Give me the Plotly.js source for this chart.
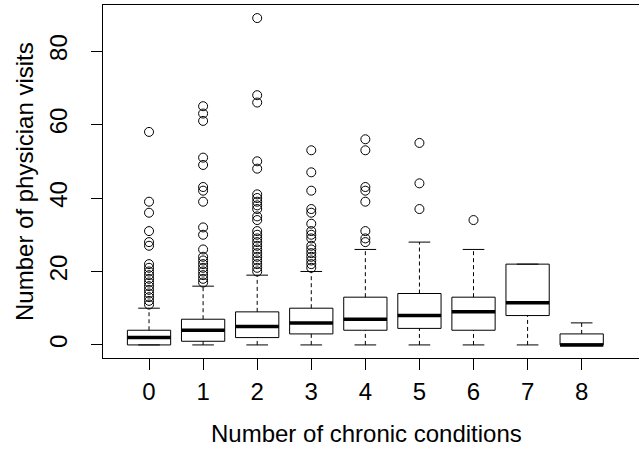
<!DOCTYPE html>
<html>
<head>
<meta charset="utf-8">
<script src="https://cdn.plot.ly/plotly-3.0.1.min.js"></script>
<style>html,body{margin:0;padding:0;background:#fff;}#chart{width:639px;height:452px;}</style>
</head>
<body>
<div id="chart"></div>
<script>
// Data
var categories = [0, 1, 2, 3, 4, 5, 6, 7, 8];
var tickLabels = ["0", "1", "2", "3", "4", "5", "6", "7", "8"];
var lowerWhisker = [0, 0, 0, 0, 0, 0, 0, 0, 0];
var q1 = [0, 1, 2, 3, 4, 4.5, 4, 8, 0];
var median = [2, 4, 5, 6, 7, 8, 9, 11.5, 0];
var q3 = [4, 7, 9, 10, 13, 14, 13, 22, 3];
var upperWhisker = [10, 16, 19, 20, 26, 28, 26, 22, 6];
var outliers = [
  [11,12,13,14,15,16,17,18,19,20,21,22,27,28,31,36,39,58],
  [17,18,19,20,21,22,23,24,26,30,32,39,42,43,49,51,61,63,65],
  [20,21,22,23,24,25,26,27,28,29,30,31,34,35,37,38,39,40,41,48,50,66,68,89],
  [21,22,23,24,25,26,27,29,30,31,33,36,37,42,47,53],
  [28,29,31,39,42,43,53,56],
  [37,44,55],
  [34],
  [],
  []
];
var yTicks = [0, 20, 40, 60, 80];

var FONT = "Liberation Sans, Arial, Helvetica, sans-serif";
var BOXW = 0.8, CAPW = 0.4;

var traces = [];
// Boxes
traces.push({
  type: "box",
  x: categories,
  q1: q1, median: median, q3: q3,
  lowerfence: q1, upperfence: q3,
  width: BOXW,
  fillcolor: "#ffffff",
  line: {color: "#000000", width: 1},
  whiskerwidth: 0,
  boxpoints: false,
  hoverinfo: "skip",
  showlegend: false
});
// Dashed whiskers
var wx = [], wy = [];
categories.forEach(function (c, i) {
  wx.push(c, c, null, c, c, null);
  wy.push(q3[i], upperWhisker[i], null, lowerWhisker[i], q1[i], null);
});
traces.push({type: "scatter", mode: "lines", x: wx, y: wy,
  line: {color: "#000000", width: 1, dash: "4px,3px"}, hoverinfo: "skip", showlegend: false});
// Whisker caps
var cx = [], cy = [];
categories.forEach(function (c, i) {
  cx.push(c - CAPW / 2, c + CAPW / 2, null, c - CAPW / 2, c + CAPW / 2, null);
  cy.push(upperWhisker[i], upperWhisker[i], null, lowerWhisker[i], lowerWhisker[i], null);
});
traces.push({type: "scatter", mode: "lines", x: cx, y: cy,
  line: {color: "#000000", width: 1}, hoverinfo: "skip", showlegend: false});
// Thick medians
var mx = [], my = [];
categories.forEach(function (c, i) {
  mx.push(c - BOXW / 2, c + BOXW / 2, null);
  my.push(median[i], median[i], null);
});
traces.push({type: "scatter", mode: "lines", x: mx, y: my,
  line: {color: "#000000", width: 3.5}, hoverinfo: "skip", showlegend: false});
// Outliers
var ox = [], oy = [];
categories.forEach(function (c, i) {
  outliers[i].forEach(function (v) { ox.push(c); oy.push(v); });
});
traces.push({type: "scatter", mode: "markers", x: ox, y: oy,
  marker: {symbol: "circle-open", size: 9, color: "#000000", line: {width: 1, color: "#000000"}},
  hoverinfo: "skip", showlegend: false});

var layout = {
  width: 639, height: 452,
  margin: {l: 103, r: 0, t: 5, b: 94, pad: 0},
  paper_bgcolor: "#ffffff", plot_bgcolor: "#ffffff",
  font: {family: FONT, size: 24, color: "#000000"},
  showlegend: false,
  xaxis: {
    type: "linear", range: [-0.851, 9.06],
    tickvals: categories, ticktext: tickLabels,
    ticks: "outside", ticklen: 11, tickwidth: 1, tickcolor: "#000000",
    showline: true, mirror: true, linecolor: "#000000", linewidth: 1,
    showgrid: false, zeroline: false,
    ticklabelstandoff: 1,
    tickfont: {family: FONT, size: 24, color: "#000000"}
  },
  yaxis: {
    range: [-3.56, 92.56],
    tickvals: yTicks,
    ticks: "outside", ticklen: 11, tickwidth: 1, tickcolor: "#000000",
    showline: true, linecolor: "#000000", linewidth: 1,
    showgrid: false, zeroline: false,
    tickangle: -90,
    ticklabelstandoff: 14,
    tickfont: {family: FONT, size: 24, color: "#000000"}
  },
  annotations: [
    {text: "Number of chronic conditions", xref: "paper", yref: "paper",
     x: 0.4907, y: -0.215, xanchor: "center", yanchor: "middle", showarrow: false,
     font: {family: FONT, size: 24, color: "#000000"}},
    {text: "Number of physician visits", xref: "paper", yref: "paper",
     x: -0.1465, y: 0.5, xanchor: "center", yanchor: "middle", textangle: -90, showarrow: false,
     font: {family: FONT, size: 24, color: "#000000"}}
  ]
};

Plotly.newPlot("chart", traces, layout, {staticPlot: true, displayModeBar: false});
</script>
</body>
</html>
